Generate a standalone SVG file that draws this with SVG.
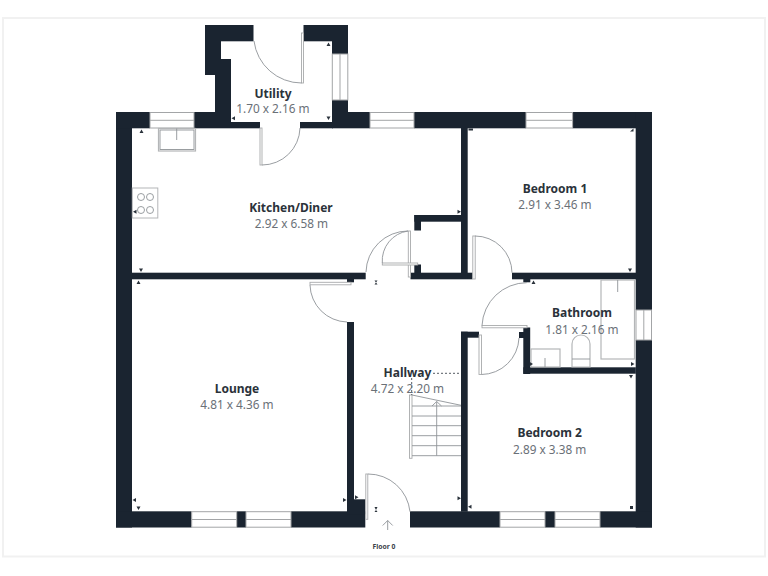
<svg xmlns="http://www.w3.org/2000/svg" width="768" height="576" viewBox="0 0 768 576">
<style>
.w{fill:#1a2430}
.win{fill:#fff;stroke:#a3a5a7;stroke-width:1}
.l{fill:none;stroke:#8f9397;stroke-width:0.9}
.d{fill:#fff;stroke:#a8aaac;stroke-width:0.9}
.f{fill:#fff;stroke:#b4b6b8;stroke-width:1.2}
.m{fill:#2a323b}
.dash{fill:none;stroke:#555c63;stroke-width:1;stroke-dasharray:2 2}
text{font-family:"Noto Sans","Liberation Sans",sans-serif;text-anchor:middle}
.n{font-size:12px;font-weight:700;fill:#2b323a}
.s{font-size:11.800px;fill:#6a7077}
</style>
<rect x="3" y="18" width="762" height="538.500" fill="#fff" stroke="#f1f1f1" stroke-width="2"/>

<g id="walls">
<rect class="w" x="116" y="112" width="16" height="415.500"/>
<rect class="w" x="116" y="112" width="34" height="16.300"/>
<rect class="w" x="194" y="112" width="37" height="16.300"/>
<rect class="w" x="231" y="122" width="29" height="6.300"/>
<rect class="w" x="300" y="122" width="33" height="6.300"/>
<rect class="w" x="332" y="100" width="16" height="28.300"/>
<rect class="w" x="348" y="112" width="22" height="16.300"/>
<rect class="w" x="414" y="112" width="112" height="16.300"/>
<rect class="w" x="572.600" y="112" width="79.400" height="16.300"/>
<rect class="w" x="205" y="25" width="48.500" height="16.300"/>
<rect class="w" x="205" y="25" width="16" height="50"/>
<rect class="w" x="215" y="59" width="16" height="69"/>
<rect class="w" x="303.500" y="25" width="44.500" height="16.300"/>
<rect class="w" x="332" y="25" width="16" height="29"/>
<rect class="w" x="635.700" y="112" width="16.300" height="198"/>
<rect class="w" x="635.700" y="340" width="16.300" height="187.500"/>
<rect class="w" x="116" y="511.300" width="75.700" height="16.200"/>
<rect class="w" x="236.700" y="511.300" width="9.300" height="16.200"/>
<rect class="w" x="291" y="511.300" width="74.300" height="16.200"/>
<rect class="w" x="410" y="511.300" width="90" height="16.200"/>
<rect class="w" x="545" y="511.300" width="10" height="16.200"/>
<rect class="w" x="600" y="511.300" width="52" height="16.200"/>
<rect class="w" x="132" y="272.700" width="233.700" height="6.600"/>
<rect class="w" x="347" y="279" width="7" height="3.300"/>
<rect class="w" x="347" y="322" width="7" height="190"/>
<rect class="w" x="347" y="499.300" width="18.300" height="15"/>
<rect class="w" x="410.500" y="272.700" width="62" height="6.600"/>
<rect class="w" x="414.300" y="215" width="47" height="6.700"/>
<rect class="w" x="414.300" y="215" width="6.700" height="15.500"/>
<rect class="w" x="414.300" y="264.500" width="6.700" height="9"/>
<rect class="w" x="461" y="128" width="6.700" height="151"/>
<rect class="w" x="512" y="272.700" width="124" height="6.600"/>
<rect class="w" x="523.300" y="279" width="7" height="3.300"/>
<rect class="w" x="461" y="331.700" width="18" height="6"/>
<rect class="w" x="461" y="331.700" width="6.700" height="180"/>
<rect class="w" x="523.300" y="327.500" width="6.900" height="46.500"/>
<rect class="w" x="519" y="332" width="5" height="6"/>
<rect class="w" x="523.300" y="367.300" width="112.500" height="6.400"/>
</g>

<g id="windows">
<g class="win">
<rect x="150" y="112.500" width="44" height="15.500"/><path d="M150 120.300H194"/>
<rect x="370" y="112.500" width="44" height="15.500"/><path d="M370 120.300H414"/>
<rect x="526" y="112.500" width="46.600" height="15.500"/><path d="M526 120.300H572.600"/>
<rect x="332.300" y="54" width="15.500" height="46"/><path d="M340 54V100"/>
<rect x="636" y="310" width="15.500" height="30"/><path d="M643.800 310V340"/>
<rect x="191.700" y="511.700" width="45" height="15.500"/><path d="M191.700 519.500H236.700"/>
<rect x="246" y="511.700" width="45" height="15.500"/><path d="M246 519.500H291"/>
<rect x="500" y="511.700" width="45" height="15.500"/><path d="M500 519.500H545"/>
<rect x="555" y="511.700" width="45" height="15.500"/><path d="M555 519.500H600"/>
</g>
</g>

<g id="doors">
<rect class="d" x="301.500" y="33" width="2" height="50"/>
<path class="l" d="M254 41A48 48 0 0 0 301.500 83"/>
<rect class="d" x="260" y="128" width="2" height="37"/>
<path class="l" d="M262 165A38 38 0 0 0 300 128"/>
<rect class="d" x="310" y="282.300" width="41" height="2.500"/>
<path class="l" d="M310 285A38 38 0 0 0 347 322"/>
<rect class="d" x="408.300" y="231" width="2.200" height="46"/>
<path class="l" d="M366 272A42 42 0 0 1 408 231"/>
<rect class="d" x="382.300" y="263" width="35.400" height="2"/>
<path class="l" d="M382.300 263A30 30 0 0 1 408 231"/>
<rect class="d" x="472.800" y="236" width="2.400" height="43"/>
<path class="l" d="M475 236A37 37 0 0 1 512 272.700"/>
<rect class="d" x="482" y="325.500" width="45" height="2.300"/>
<path class="l" d="M482 325.500A45 45 0 0 1 526.700 282.700"/>
<rect class="d" x="479" y="335" width="2.500" height="39.500"/>
<path class="l" d="M481.500 374.500A38 38 0 0 0 519 338"/>
<rect class="d" x="365.800" y="474" width="2" height="45.300"/>
<path class="l" d="M368 474A42 42 0 0 1 410 511.700"/>
</g>

<g id="fixtures">
<rect class="f" x="158.500" y="128.500" width="37" height="22.500"/>
<rect class="l" x="160" y="130" width="34" height="19.500"/>
<path class="l" d="M176.700 128.500V140"/>
<rect x="132.300" y="188" width="25.500" height="30" fill="#fff" stroke="#b4b6b8"/>
<g class="l"><circle cx="141" cy="197" r="3.500"/><circle cx="150" cy="197" r="3.500"/><circle cx="141" cy="210" r="3.500"/><circle cx="150" cy="210" r="3.500"/></g>
<rect class="f" x="601" y="280" width="33.500" height="79"/>
<path class="l" d="M617.700 280V292"/>
<rect class="f" x="531" y="349" width="29" height="18"/>
<path class="l" d="M545 358V367"/>
<path class="f" d="M572 367V344A9 9 0 0 1 590 344V367Z"/>
<path class="l" d="M572 359H590"/>
</g>

<g id="stairs">
<rect class="d" x="409.500" y="395" width="2.500" height="63.300"/>
<path class="l" d="M412 395L461 405.300M412 406H461M412 416H461M412 425.700H461M412 435.700H461M412 445.700H461M412 455.700H461M436.700 401.500V455.700M432 406L436.700 401.500L441.500 406"/>
</g>

<path class="dash" d="M433 373.300H461M411.700 378V395"/>
<path class="l" d="M387.700 530V520.500M382.700 525.500L387.700 520.500L392.700 525.500"/>

<path class="m" d="M139.500 133L141.500 129.500L143.500 133ZM139 268.500H143L141 272ZM136.500 284L138.500 280.500L140.500 284ZM133 211.700L136.500 209.700V213.700ZM231.500 118.300L235 116.300V120.300ZM326.500 116.500H330.500L328.500 120ZM326.500 46L328.500 42.500L330.500 46ZM461 211.700L457.500 209.700V213.700ZM374.500 280.500H377.500L376 282.500L377.500 284.500H374.500L376 282.500ZM531.500 284L533.500 280.500L535.500 284ZM628 268.500H632L630 272ZM468.500 130.500H473V128.500H468.500ZM630 131.500H633.500V128.500ZM629 375H633L631 378.500ZM633 506H630V509H633ZM533 364L529.800 362V366ZM631 362V366L634.500 364ZM468 506.700L471.500 504.700V508.700ZM461 498.300L457.500 496.300V500.300ZM358.500 497.300L355 495.300V499.300ZM374.500 507H377.500L376 510L377.500 512H374.500L376 510ZM132.500 500L136 498V502ZM136.500 506.500H140.500L138.500 510ZM346.500 500L343 498V502Z"/>

<g id="kitchen"><text class="n" x="291" y="212.300">Kitchen/Diner</text><text class="s" x="291.500" y="228">2.92 x 6.58 m</text></g>
<g id="utility"><text class="n" x="273" y="97.700">Utility</text><text class="s" x="273" y="113.300">1.70 x 2.16 m</text></g>
<g id="bedroom1"><text class="n" x="555" y="192.500">Bedroom 1</text><text class="s" x="555" y="208.500">2.91 x 3.46 m</text></g>
<g id="bathroom"><text class="n" x="582" y="317.300">Bathroom</text><text class="s" x="582" y="334">1.81 x 2.16 m</text></g>
<g id="lounge"><text class="n" x="237" y="392.500">Lounge</text><text class="s" x="237" y="408.500">4.81 x 4.36 m</text></g>
<g id="hallway"><text class="n" x="407.500" y="376.700">Hallway</text><text class="s" x="407.500" y="392.700">4.72 x 2.20 m</text></g>
<g id="bedroom2"><text class="n" x="549.700" y="437.300">Bedroom 2</text><text class="s" x="549.700" y="454">2.89 x 3.38 m</text></g>
<text x="384" y="549" font-size="6.800" font-weight="700" fill="#3a4149">Floor 0</text>
</svg>
